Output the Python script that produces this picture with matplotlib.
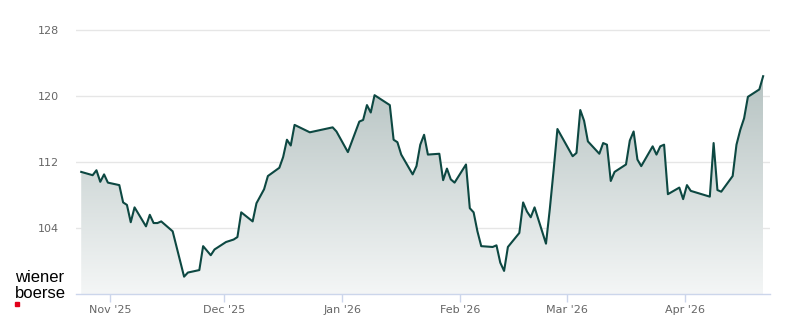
import numpy as np
import pandas as pd
import matplotlib
matplotlib.use("Agg")
import matplotlib.pyplot as plt
import matplotlib.dates as mdates
from matplotlib.colors import LinearSegmentedColormap
from matplotlib.patches import Polygon, Rectangle

# daily closes
dates = [
    "2025-10-24", "2025-10-27", "2025-10-28", "2025-10-29", "2025-10-30", "2025-10-31",
    "2025-11-03", "2025-11-04", "2025-11-05", "2025-11-06", "2025-11-07",
    "2025-11-10", "2025-11-11", "2025-11-12", "2025-11-13", "2025-11-14",
    "2025-11-17", "2025-11-20", "2025-11-21", "2025-11-24", "2025-11-25",
    "2025-11-27", "2025-11-28", "2025-12-01", "2025-12-03", "2025-12-04",
    "2025-12-05", "2025-12-08", "2025-12-09", "2025-12-11", "2025-12-12",
    "2025-12-15", "2025-12-16", "2025-12-17", "2025-12-18", "2025-12-19",
    "2025-12-23", "2025-12-29", "2025-12-30", "2026-01-02", "2026-01-05",
    "2026-01-06", "2026-01-07", "2026-01-08", "2026-01-09", "2026-01-12",
    "2026-01-13", "2026-01-14", "2026-01-15", "2026-01-16", "2026-01-19",
    "2026-01-20", "2026-01-21", "2026-01-22", "2026-01-23", "2026-01-26",
    "2026-01-27", "2026-01-28", "2026-01-29", "2026-01-30", "2026-02-02",
    "2026-02-03", "2026-02-04", "2026-02-05", "2026-02-06", "2026-02-09",
    "2026-02-10", "2026-02-11", "2026-02-12", "2026-02-13", "2026-02-16",
    "2026-02-17", "2026-02-18", "2026-02-19", "2026-02-20", "2026-02-23",
    "2026-02-24", "2026-02-25", "2026-02-26", "2026-03-02", "2026-03-03",
    "2026-03-04", "2026-03-05", "2026-03-06", "2026-03-09", "2026-03-10",
    "2026-03-11", "2026-03-12", "2026-03-13", "2026-03-16", "2026-03-17",
    "2026-03-18", "2026-03-19", "2026-03-20", "2026-03-23", "2026-03-24",
    "2026-03-25", "2026-03-26", "2026-03-27", "2026-03-30", "2026-03-31",
    "2026-04-01", "2026-04-02", "2026-04-07", "2026-04-08", "2026-04-09",
    "2026-04-10", "2026-04-13", "2026-04-14", "2026-04-15", "2026-04-16",
    "2026-04-17", "2026-04-20", "2026-04-21",
]
prices = [
    110.8, 110.4, 111.0, 109.6, 110.5, 109.5,
    109.2, 107.1, 106.8, 104.7, 106.5,
    104.2, 105.6, 104.6, 104.6, 104.8,
    103.6, 98.1, 98.6, 98.9, 101.8,
    100.7, 101.4, 102.3, 102.6, 102.9,
    105.9, 104.8, 107.0, 108.7, 110.3,
    111.3, 112.6, 114.7, 114.0, 116.5,
    115.6, 116.2, 115.7, 113.2, 116.9,
    117.1, 118.9, 118.0, 120.1, 119.2,
    118.9, 114.7, 114.4, 112.9, 110.5,
    111.5, 114.1, 115.3, 112.9, 113.0,
    109.8, 111.2, 109.9, 109.5, 111.7,
    106.4, 105.9, 103.6, 101.8, 101.7,
    101.9, 99.8, 98.8, 101.7, 103.4,
    107.1, 106.0, 105.3, 106.5, 102.1,
    106.3, 111.0, 116.0, 112.7, 113.1,
    118.3, 117.0, 114.5, 113.0, 114.3,
    114.1, 109.7, 110.8, 111.7, 114.6,
    115.7, 112.3, 111.5, 113.9, 112.9,
    113.9, 114.1, 108.1, 108.9, 107.5,
    109.2, 108.5, 107.8, 114.3, 108.6,
    108.4, 110.3, 114.1, 115.9, 117.3,
    119.9, 120.8, 122.4,
]
y_ticks = [104, 112, 120, 128]
y_min, y_max = 96, 130

ts = pd.to_datetime(dates) + pd.Timedelta(hours=12)
x = mdates.date2num(ts)
y = np.array(prices)

fig = plt.figure(figsize=(8, 3.24), dpi=100)
ax = fig.add_axes([0.095, 0.0926, 0.8675, 0.8657])

nov1 = mdates.date2num(pd.Timestamp("2025-11-01"))
x0, x1 = nov1 - 8.87, nov1 + 173.3
ax.set_xlim(x0, x1)
ax.set_ylim(y_min, y_max)

# gradient fill under the line
cmap = LinearSegmentedColormap.from_list("fill", ["#f4f6f6", "#b6c3c2"])
grad = np.linspace(0, 1, 256).reshape(-1, 1)
im = ax.imshow(grad, cmap=cmap, aspect="auto", origin="lower",
               extent=[x[0], x[-1], y_min, y.max()], zorder=1)
poly = Polygon(np.column_stack([np.r_[x[0], x, x[-1]], np.r_[y_min, y, y_min]]),
               closed=True, facecolor="none", edgecolor="none",
               transform=ax.transData)
ax.add_patch(poly)
im.set_clip_path(poly)

ax.plot(x, y, color="#0d4842", lw=1.5, zorder=3, solid_joinstyle="round")

# axes styling
ax.set_yticks(y_ticks)
ax.yaxis.grid(True, color="#e6e6e6", lw=1)
ax.set_axisbelow(True)
for s in ["top", "right", "left"]:
    ax.spines[s].set_visible(False)
ax.spines["bottom"].set_color("#ccd6eb")
ax.spines["bottom"].set_linewidth(1)
ax.tick_params(axis="y", length=0, pad=12, labelsize=8, labelcolor="#666666")
ax.xaxis.set_major_locator(mdates.MonthLocator())
ax.xaxis.set_major_formatter(mdates.DateFormatter("%b '%y"))
ax.tick_params(axis="x", length=5.8, width=1, color="#ccd6eb", pad=2,
               labelsize=8, labelcolor="#666666")

# logo
fig.text(15 / 800, 1 - 282 / 324, "wiener", fontsize=12, family="Liberation Sans",
         color="black", va="baseline", ha="left")
fig.text(15 / 800, 1 - 298 / 324, "boerse", fontsize=12, family="Liberation Sans",
         color="black", va="baseline", ha="left")
fig.patches.append(Rectangle((15 / 800, 1 - 306 / 324), 4 / 800, 4 / 324,
                             transform=fig.transFigure, color="#e2001a"))

fig.savefig("out.png", dpi=100)
